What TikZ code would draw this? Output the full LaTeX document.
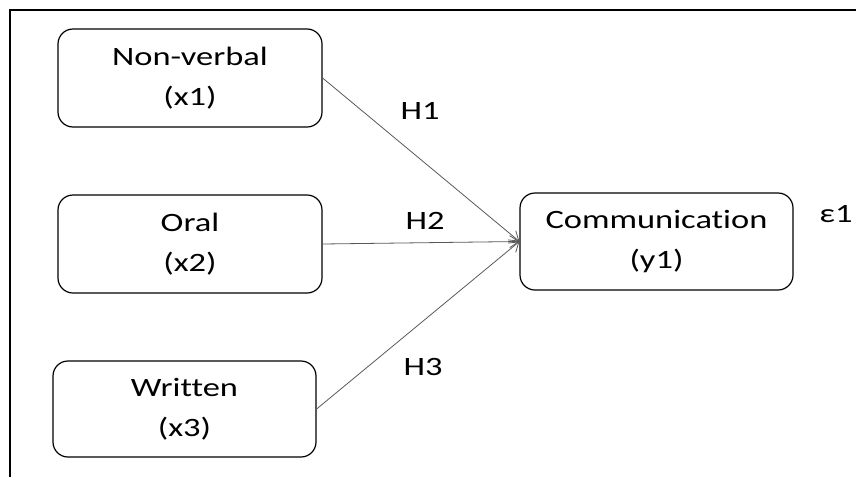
\documentclass[tikz,border=0pt]{standalone}
\usepackage{fontspec}
\setmainfont{Carlito}[FakeStretch=1.3,Ligatures=NoCommon]
\usetikzlibrary{arrows.meta}

\begin{document}
\begin{tikzpicture}[x=1pt,y=-1pt]

	\tikzstyle{var}=[draw,rounded corners=15pt,line width=1.2pt,minimum width=264pt,minimum height=98pt,align=center,inner sep=0pt,font={\fontsize{26.5}{40}\selectfont}]
	\tikzstyle{link}=[draw=black!65,line width=0.8pt,-{Straight Barb[length=9pt,width=12pt]}]
	\tikzstyle{lbl}=[anchor=base,inner sep=0pt,font={\fontsize{26.5}{30}\selectfont}]

	\useasboundingbox (0,0) rectangle (856,477);
	%Frame
	\draw[line width=1.6pt] (856,10) -- (10,10) -- (10,477);

	%Independent variables
	\foreach \name/\i/\y in {Non-verbal/1/78, Oral/2/244}
	\node[var] (X\i) at (190,\y) {\name\\(x\i)};
	\node[var,minimum width=263pt,minimum height=96pt] (X3) at (184.5,409) {Written\\(x3)};

	%Dependent variable
	\node[var,minimum width=273pt,minimum height=97pt] (Y1) at (656.5,241.5) {Communication\\(y1)};
	\node[lbl] (E1) at (836,222) {ε1};

	%Links
	\foreach \i/\x/\y in {1/420/119, 2/425/229, 3/423/375}{
	\draw[link] (X\i.east) -- (Y1.west);
	\node[lbl] (H\i) at (\x,\y) {H\i};}

\end{tikzpicture}
\end{document}
